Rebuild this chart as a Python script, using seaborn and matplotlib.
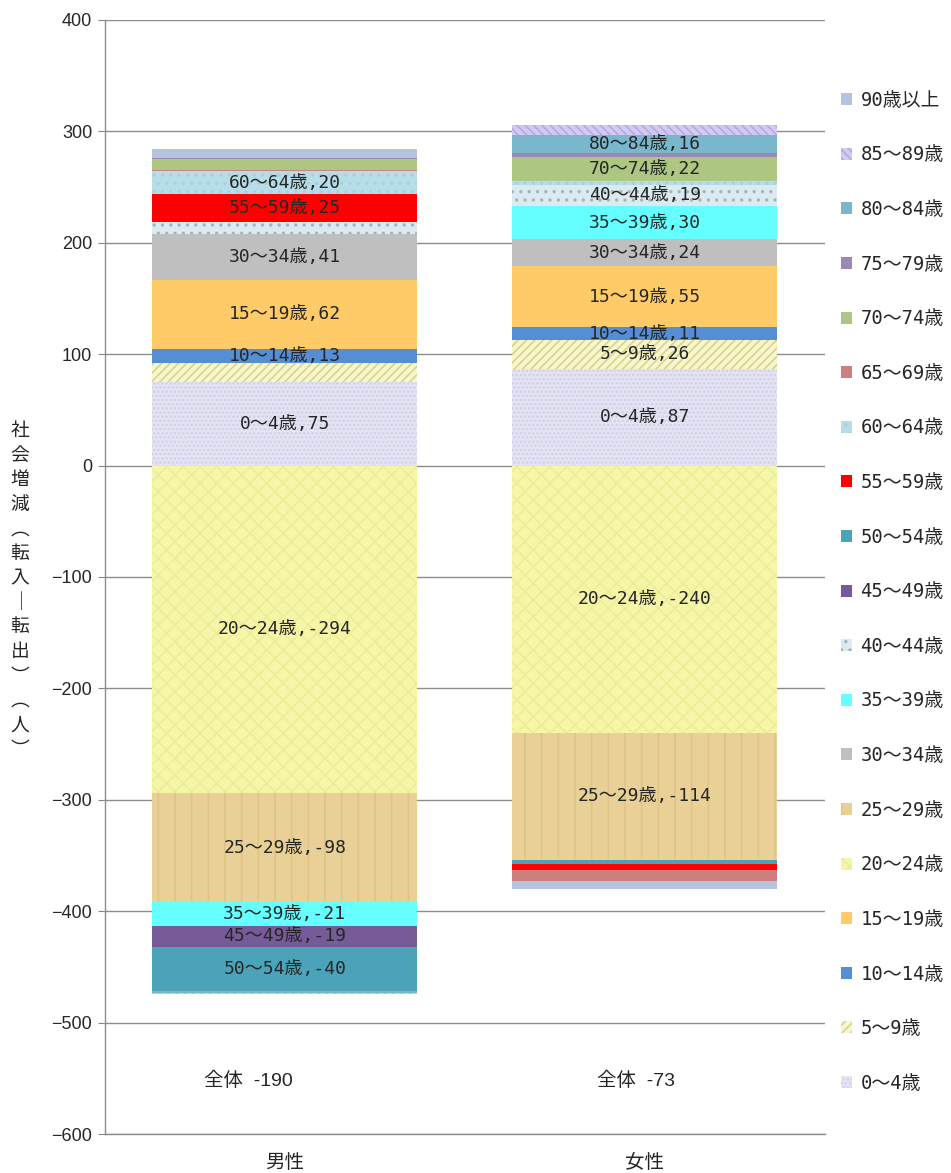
import matplotlib
matplotlib.use("Agg")
import matplotlib.pyplot as plt
from matplotlib.patches import Patch
import numpy as np
import seaborn as sns

sexes = ["男性", "女性"]
ages = ["0～4歳", "5～9歳", "10～14歳", "15～19歳", "20～24歳", "25～29歳",
        "30～34歳", "35～39歳", "40～44歳", "45～49歳", "50～54歳", "55～59歳",
        "60～64歳", "65～69歳", "70～74歳", "75～79歳", "80～84歳", "85～89歳",
        "90歳以上"]
male = [75, 17, 13, 62, -294, -98, 41, -21, 11, -19, -40, 25, 20, 1, 10, 1, -1, -1, 8]
female = [87, 26, 11, 55, -240, -114, 24, 30, 19, 0, -4, -5, 3, -10, 22, 4, 16, 9, -7]
totals = [-190, -73]
# which segments carry a data label
male_labeled = ["0～4歳", "10～14歳", "15～19歳", "20～24歳", "25～29歳", "30～34歳",
                "35～39歳", "45～49歳", "50～54歳", "55～59歳", "60～64歳"]
female_labeled = ["0～4歳", "5～9歳", "10～14歳", "15～19歳", "20～24歳", "25～29歳",
                  "30～34歳", "35～39歳", "40～44歳", "70～74歳", "80～84歳"]

# face colour, hatch, hatch colour
styles = {
    "0～4歳": ("#E4E4F4", "....", "#D0D0E8"),
    "5～9歳": ("#F8F6CC", "////", "#D8D48E"),
    "10～14歳": ("#558ED5", None, None),
    "15～19歳": ("#FFCB69", None, None),
    "20～24歳": ("#F6F6A8", "xx", "#EDED98"),
    "25～29歳": ("#E9D096", "|", "#E0C587"),
    "30～34歳": ("#BFBFBF", None, None),
    "35～39歳": ("#66FFFF", None, None),
    "40～44歳": ("#DDEBF1", "..", "#9CB6C2"),
    "45～49歳": ("#775B98", None, None),
    "50～54歳": ("#4AA3B9", None, None),
    "55～59歳": ("#FF0000", None, None),
    "60～64歳": ("#B7DDE8", "..", "#A8D2DE"),
    "65～69歳": ("#CD7F7F", None, None),
    "70～74歳": ("#ADC682", None, None),
    "75～79歳": ("#9B88B3", None, None),
    "80～84歳": ("#79B8CC", None, None),
    "85～89歳": ("#D3CAF2", "\\\\\\\\", "#B6A9E2"),
    "90歳以上": ("#B4C4DF", None, None),
}

sns.set_style("white")
plt.rcParams["font.family"] = ["Noto Sans CJK JP", "DejaVu Sans"]
plt.rcParams["hatch.linewidth"] = 1.2
mono_jp = ["DejaVu Sans Mono", "Noto Sans CJK JP"]
arial_jp = ["Liberation Sans", "Noto Sans CJK JP"]

fig = plt.figure(figsize=(9.51, 11.73), dpi=100)
ax = fig.add_axes([0.110, 0.0332, 0.7575, 0.9498])

x = np.arange(len(sexes))
width = 0.736
data = np.array([male, female])
labeled = [male_labeled, female_labeled]
pos_base = np.zeros(len(sexes))
neg_base = np.zeros(len(sexes))

for j, age in enumerate(ages):
    face, hatch, hcol = styles[age]
    vals = data[:, j]
    bottoms = np.where(vals >= 0, pos_base, neg_base)
    ax.bar(x, vals, width, bottom=bottoms, color=face, hatch=hatch,
           edgecolor=hcol if hcol else face, linewidth=0, zorder=3)
    for i in range(len(sexes)):
        if age in labeled[i]:
            ax.text(x[i], bottoms[i] + vals[i] / 2, f"{age},{vals[i]}",
                    ha="center", va="center", fontsize=13, family=mono_jp, zorder=4)
    pos_base = pos_base + np.where(vals >= 0, vals, 0)
    neg_base = neg_base + np.where(vals < 0, vals, 0)

total_dx = [-0.1, -0.025]
for i, t in enumerate(totals):
    ax.text(x[i] + total_dx[i], -552, f"全体  {t}", ha="center", va="center",
            fontsize=14, family=arial_jp, zorder=4)

ax.set_ylim(-600, 400)
ax.set_xlim(-0.5, 1.5)
ax.set_yticks(np.arange(-600, 401, 100))
ax.set_yticklabels([str(v).replace("-", "\u2212") for v in range(-600, 401, 100)],
                   fontsize=13, family="Liberation Sans")
ax.set_xticks(x)
ax.set_xticklabels(sexes, fontsize=14)
ax.set_xticks([-0.5, 0.5, 1.5], minor=True)
ax.tick_params(axis="x", which="major", length=0, pad=13)
ax.tick_params(axis="x", which="minor", length=5, color="#888888", direction="out")
ax.tick_params(axis="y", length=5, color="#888888", direction="out", left=True, pad=4)
ax.yaxis.grid(True, color="#8C8C8C", linewidth=1, zorder=0)
for s in ["top", "right"]:
    ax.spines[s].set_visible(False)
for s in ["left", "bottom"]:
    ax.spines[s].set_color("#8C8C8C")
    ax.spines[s].set_linewidth(1)

ylab = "社\n会\n増\n減\n︵\n転\n入\n｜\n転\n出\n︶\n︵\n人\n︶"
fig.text(0.021, 0.497, ylab, ha="center", va="center", fontsize=13.5, linespacing=1.22)

handles = []
for age in ages[::-1]:
    face, hatch, hcol = styles[age]
    handles.append(Patch(facecolor=face, hatch=hatch, edgecolor=hcol if hcol else face,
                         linewidth=0))
ax.legend(handles, ages[::-1], loc="upper left", bbox_to_anchor=(0.876, 0.929),
          bbox_transform=fig.transFigure, frameon=False,
          prop={"family": mono_jp, "size": 13.6},
          handlelength=0.6, handleheight=0.6, handletextpad=0.45, labelspacing=1.885,
          borderaxespad=0)

fig.savefig("out.png", dpi=100)
